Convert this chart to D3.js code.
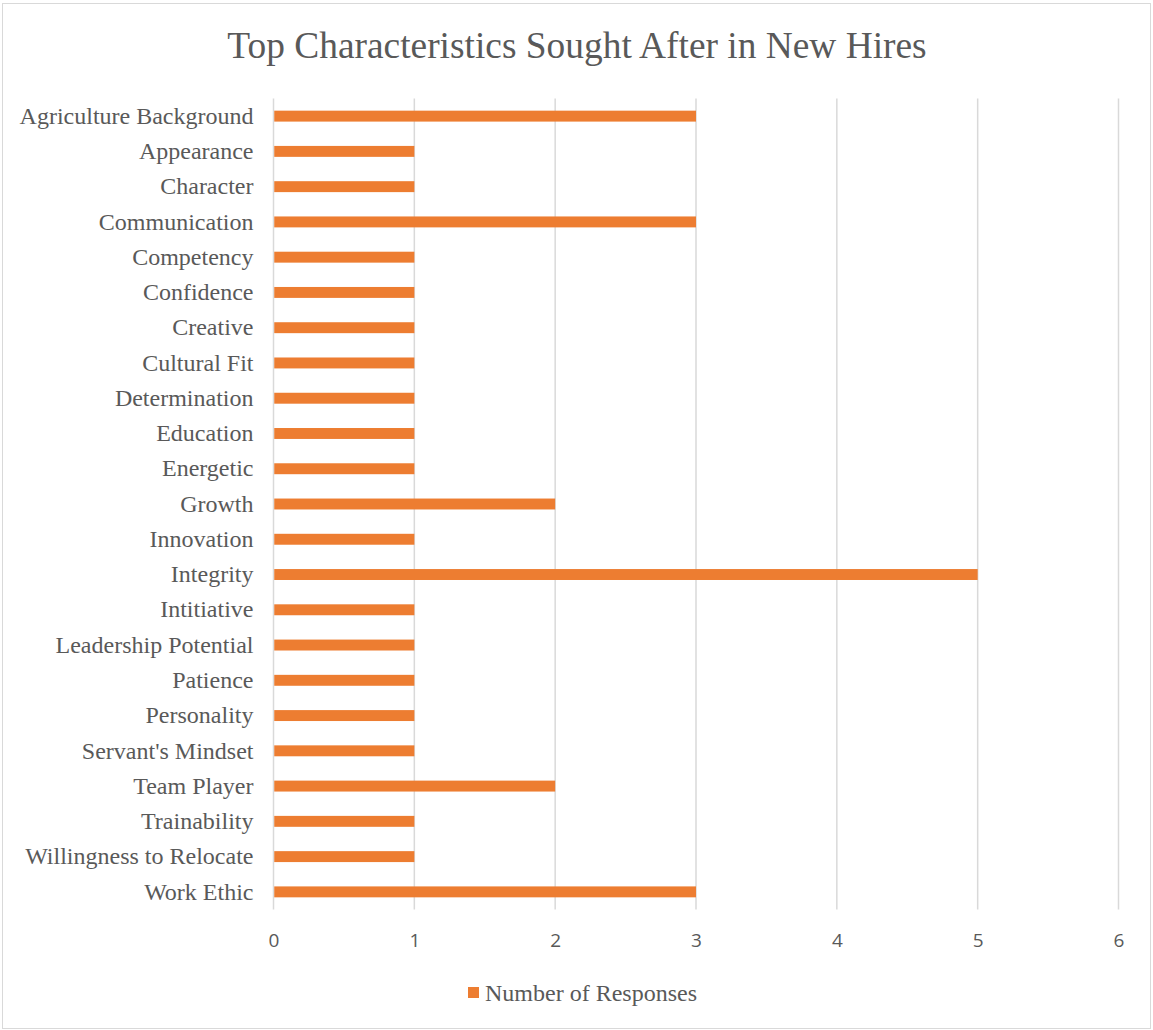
<!DOCTYPE html>
<html>
<head>
<meta charset="utf-8">
<script src="https://cdn.jsdelivr.net/npm/d3@7"></script>
<style>
  html, body { margin: 0; padding: 0; background: #fff; }
  svg { display: block; }
</style>
</head>
<body>
<svg id="chart" width="1153" height="1030"></svg>
<script>
const title = "Top Characteristics Sought After in New Hires";
const seriesName = "Number of Responses";
const categories = [
  "Agriculture Background", "Appearance", "Character", "Communication",
  "Competency", "Confidence", "Creative", "Cultural Fit", "Determination",
  "Education", "Energetic", "Growth", "Innovation", "Integrity", "Intitiative",
  "Leadership Potential", "Patience", "Personality", "Servant's Mindset",
  "Team Player", "Trainability", "Willingness to Relocate", "Work Ethic"
];
const responses = [3, 1, 1, 3, 1, 1, 1, 1, 1, 1, 1, 2, 1, 5, 1, 1, 1, 1, 1, 2, 1, 1, 3];
const xTicks = [0, 1, 2, 3, 4, 5, 6];

const W = 1153, H = 1030;
const plot = { left: 273.5, right: 1118.5, top: 98.5, bottom: 909.5 };
const barColor = "#ED7D31";
const textColor = "#595959";
const gridColor = "#D9D9D9";
const serif = "'Liberation Serif', 'Times New Roman', serif";

const svg = d3.select("#chart");

// chart area border
svg.append("rect")
  .attr("x", 2.5).attr("y", 3.5)
  .attr("width", W - 5).attr("height", H - 5)
  .attr("fill", "#fff").attr("stroke", "#D9D9D9").attr("stroke-width", 1);

const x = d3.scaleLinear().domain([0, 6]).range([plot.left, plot.right]);
const y = d3.scaleBand().domain(categories).range([plot.top, plot.bottom]).paddingInner(0.69).paddingOuter(0.345);

// vertical gridlines
svg.append("g")
  .selectAll("line")
  .data(xTicks)
  .join("line")
  .attr("x1", d => x(d)).attr("x2", d => x(d))
  .attr("y1", plot.top).attr("y2", plot.bottom)
  .attr("stroke", gridColor).attr("stroke-width", 1.5);

// bars
svg.append("g")
  .selectAll("rect")
  .data(categories)
  .join("rect")
  .attr("x", x(0) + 0.75)
  .attr("y", d => y(d))
  .attr("width", (d, i) => x(responses[i]) - x(0) - 0.75)
  .attr("height", y.bandwidth())
  .attr("fill", barColor);

// x axis tick labels
const xAxis = d3.axisBottom(x).tickValues(xTicks).tickFormat(d3.format("d")).tickSize(0).tickPadding(24);
const gx = svg.append("g").attr("transform", `translate(0,${plot.bottom})`).call(xAxis);
gx.select(".domain").remove();
gx.selectAll("text")
  .attr("fill", textColor)
  .style("font-family", "'Open Sans', sans-serif")
  .style("font-size", "19px");

// y axis category labels
const yAxis = d3.axisLeft(y).tickSize(0).tickPadding(20);
const gy = svg.append("g").attr("transform", `translate(${plot.left},0)`).call(yAxis);
gy.select(".domain").remove();
gy.selectAll("text")
  .attr("fill", textColor)
  .style("font-family", serif)
  .style("font-size", "24px");

// title
svg.append("text")
  .attr("x", 577).attr("y", 58)
  .attr("text-anchor", "middle")
  .attr("fill", textColor)
  .style("font-family", serif)
  .style("font-size", "37.4px")
  .text(title);

// legend
const legend = svg.append("g");
legend.append("rect")
  .attr("x", 468).attr("y", 987).attr("width", 11).attr("height", 11)
  .attr("fill", barColor);
legend.append("text")
  .attr("x", 485).attr("y", 1001)
  .attr("fill", textColor)
  .style("font-family", serif)
  .style("font-size", "24px")
  .text(seriesName);
</script>
</body>
</html>
